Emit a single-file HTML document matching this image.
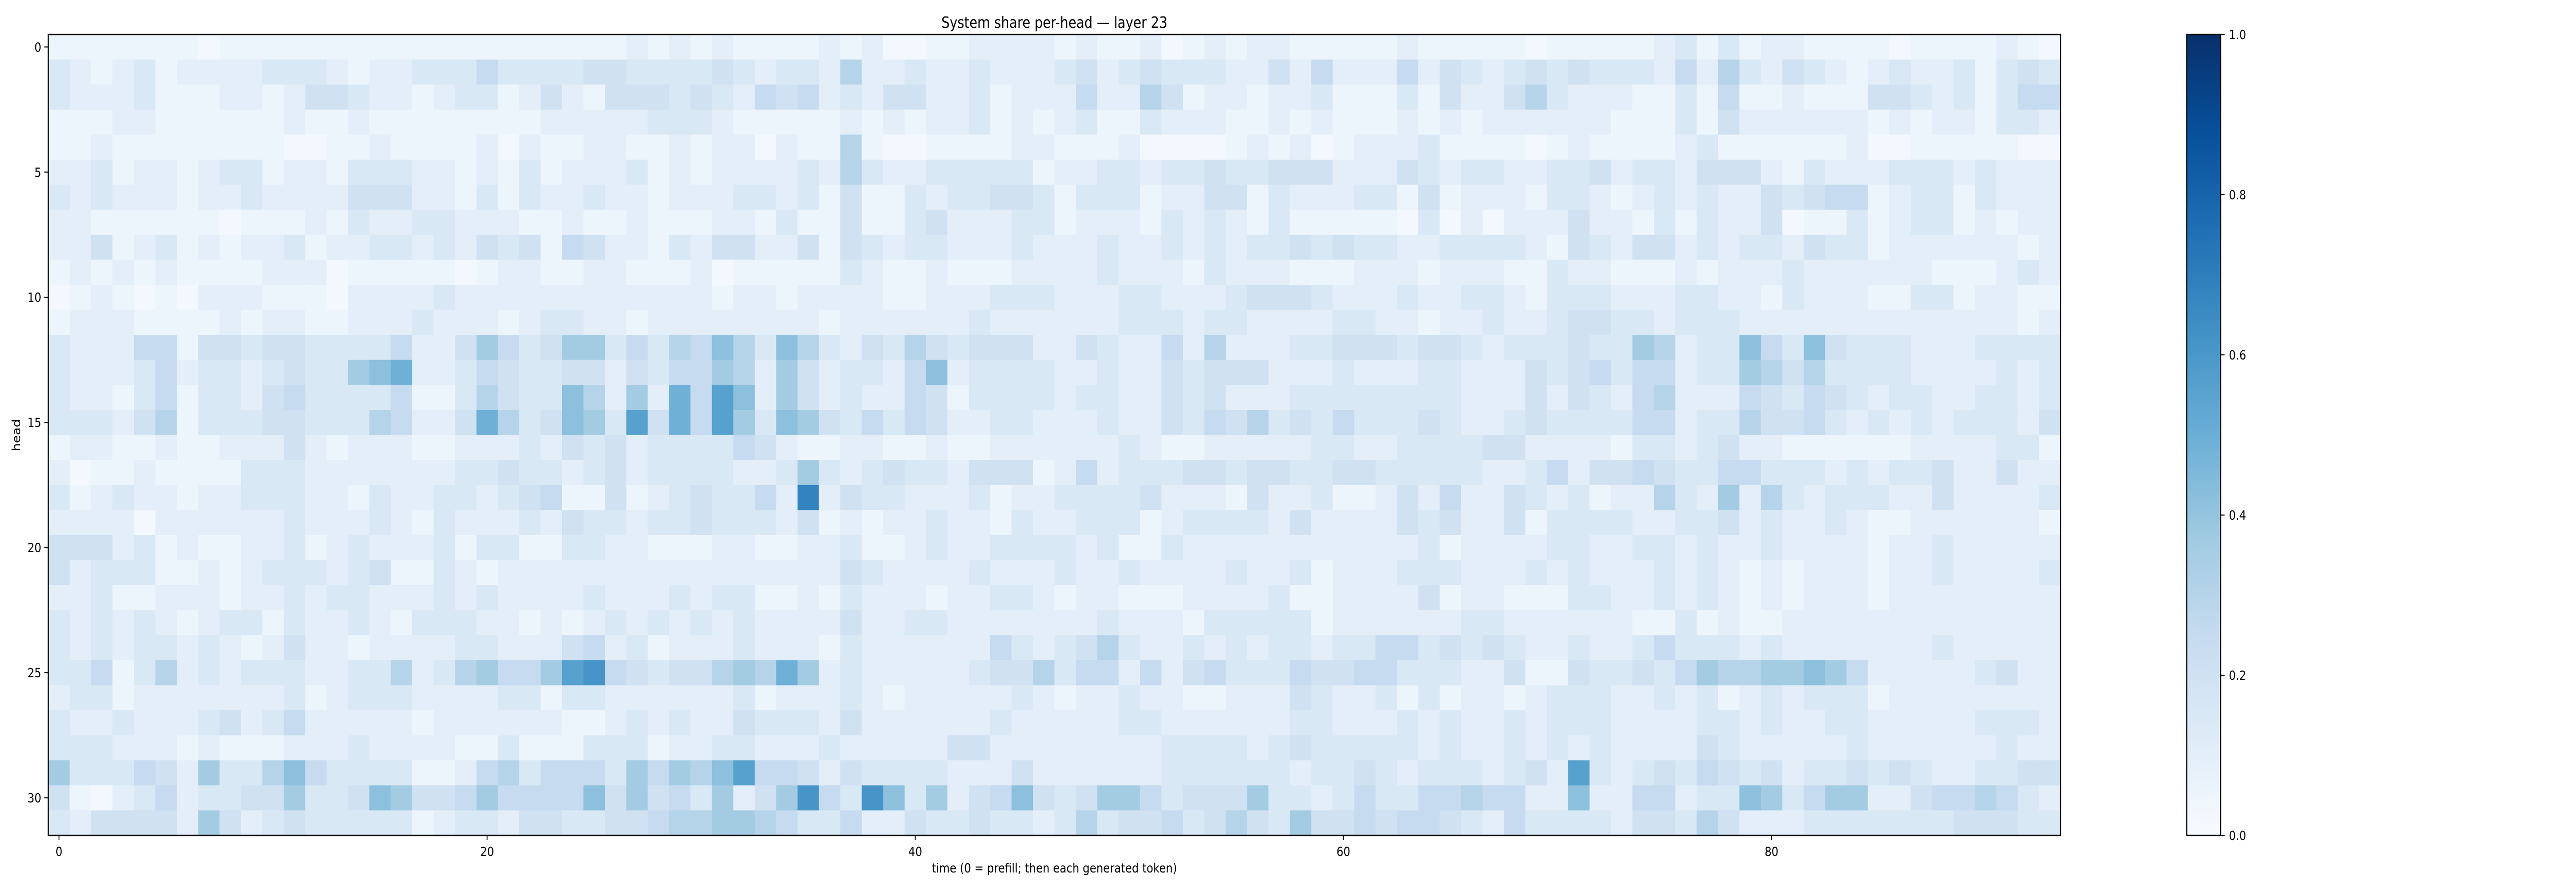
<!DOCTYPE html>
<html><head><meta charset="utf-8"><style>
html,body{margin:0;padding:0;background:#fff;width:100%;height:100%;overflow:hidden;}
svg{display:block;position:fixed;left:0;top:0;width:100vw;height:100vh;font-family:"DejaVu Sans","Liberation Sans",sans-serif;}
</style></head><body>
<svg id="chart" viewBox="0 0 5922 1728" preserveAspectRatio="none" xmlns="http://www.w3.org/2000/svg">
<rect x="0" y="0" width="5922" height="1728" fill="#fff"/>
<text x="2424" y="54" font-size="30" text-anchor="middle" fill="#000">System share per-head — layer 23</text>
<g id="cells"></g>
<g id="axes"></g>
<text x="2424" y="1694" font-size="25" text-anchor="middle" fill="#000">time (0 = prefill; then each generated token)</text>
<text x="0" y="0" font-size="25" text-anchor="middle" fill="#000" transform="translate(46,845) rotate(-90)">head</text>
<defs>
<linearGradient id="blues" x1="0" y1="1" x2="0" y2="0">
<stop offset="0" stop-color="#f7fbff"/><stop offset="0.125" stop-color="#deebf7"/><stop offset="0.25" stop-color="#c6dbef"/><stop offset="0.375" stop-color="#9ecae1"/><stop offset="0.5" stop-color="#6baed6"/><stop offset="0.625" stop-color="#4292c6"/><stop offset="0.75" stop-color="#2171b5"/><stop offset="0.875" stop-color="#08519c"/><stop offset="1" stop-color="#08306b"/>
</linearGradient>
</defs>
<rect x="5027" y="67" width="78" height="1555" fill="url(#blues)" stroke="#000" stroke-width="2.5"/>
<g id="cbticks"></g>
</svg>
<script>
// system share per head (percent units: 15 = 0.15), rows = heads 0..31, columns = time 0..93
const xTicks = [0, 20, 40, 60, 80];
const yTicks = [0, 5, 10, 15, 20, 25, 30];
const cbTicks = [0.0, 0.2, 0.4, 0.6, 0.8, 1.0];
const cbTickLabels = ["0.0", "0.2", "0.4", "0.6", "0.8", "1.0"];
const shares = [
[5,5,5,5,5,5,5,2,5,5,5,5,5,5,5,5,5,5,5,5,5,5,5,5,5,5,5,10,5,10,5,10,5,5,5,5,10,5,10,2,2,5,5,10,10,10,10,5,10,5,5,10,2,5,10,5,10,10,5,5,5,5,5,10,5,5,5,5,5,2,5,5,5,5,5,10,15,5,15,5,10,10,5,5,5,5,2,5,5,5,5,10,5,2],
[15,10,5,10,15,5,10,10,10,10,15,15,15,10,5,10,10,15,15,15,25,15,15,15,15,20,20,15,15,15,15,20,15,10,15,15,10,30,10,10,15,10,10,15,10,10,10,15,20,10,15,20,15,15,15,10,10,20,10,25,10,10,10,25,10,20,15,10,15,20,15,20,15,15,15,10,25,10,30,15,10,20,15,10,5,10,15,10,10,15,5,15,20,15],
[15,10,10,10,15,5,5,5,10,10,5,10,20,20,15,10,10,5,10,15,15,5,10,20,10,5,20,20,20,15,20,15,10,25,20,25,10,15,10,20,20,10,10,15,5,10,10,10,25,10,10,30,20,5,10,10,5,10,10,15,5,5,5,15,5,20,10,10,20,30,15,10,10,10,5,5,15,5,25,5,5,10,5,5,5,20,20,15,10,15,5,15,25,25],
[5,5,5,10,10,5,5,5,5,5,5,10,5,5,10,5,5,5,5,5,5,5,5,10,10,10,10,10,15,15,15,10,5,5,5,5,5,10,5,10,5,10,10,15,5,10,5,10,15,5,5,15,10,10,10,5,5,10,5,10,5,5,5,10,5,10,5,10,10,10,10,10,10,5,5,5,15,5,20,10,10,10,10,10,10,5,10,5,10,10,5,15,15,10],
[5,5,10,5,5,5,5,5,5,5,5,2,2,5,5,10,5,5,5,5,10,2,10,5,5,10,10,5,5,10,5,10,10,2,10,5,5,30,5,2,2,5,5,5,5,10,10,5,5,5,10,2,2,2,2,5,10,5,10,2,5,10,10,10,15,5,5,5,5,2,5,10,5,5,5,5,10,15,5,5,5,5,5,5,10,2,2,5,5,5,5,5,2,2],
[10,10,15,5,10,10,5,10,15,15,5,10,10,5,15,15,15,10,10,5,10,5,15,5,10,10,10,15,5,10,5,10,10,10,10,15,10,30,15,10,10,15,15,15,15,15,5,10,10,15,15,10,15,15,20,15,15,20,20,20,10,10,10,20,15,10,15,15,10,10,15,15,20,10,15,15,10,20,20,20,10,5,15,10,10,10,15,15,15,10,15,10,10,10],
[15,10,15,10,10,10,5,10,10,15,10,10,10,10,20,20,20,10,10,5,15,5,15,10,10,15,10,10,5,10,10,10,15,15,10,15,5,20,5,5,15,10,15,15,20,20,15,5,15,15,15,5,10,10,20,20,5,15,10,10,10,15,15,5,20,5,10,10,10,5,15,15,10,5,10,15,10,15,10,10,20,15,20,25,25,5,10,15,15,5,15,10,10,10],
[10,10,5,5,5,5,5,5,2,5,5,5,10,5,15,10,10,15,15,10,10,10,5,5,10,5,5,10,5,5,5,10,10,5,15,5,5,20,5,5,15,20,10,10,10,15,15,5,10,10,10,5,15,10,15,10,5,15,5,5,5,5,5,2,15,2,10,2,10,10,10,20,10,10,5,15,5,15,10,10,20,2,5,5,15,5,10,15,15,5,10,5,10,10],
[10,10,20,5,10,15,5,10,5,10,10,15,5,10,10,15,15,10,15,10,20,15,20,5,25,20,10,10,5,15,10,20,20,10,10,20,5,20,15,10,15,15,10,10,10,15,10,10,10,15,10,10,15,10,15,10,15,15,20,15,20,15,15,10,10,15,15,15,15,10,5,20,15,10,20,20,10,15,10,15,15,10,20,15,15,5,10,10,10,10,10,10,5,10],
[5,10,5,10,5,10,5,5,5,5,10,10,10,2,5,5,5,5,5,2,5,10,10,5,5,10,10,5,5,5,10,2,5,5,5,5,5,15,10,5,5,10,5,5,5,10,10,10,10,15,10,10,10,5,15,10,10,10,5,5,5,10,10,10,5,10,10,10,5,5,15,10,10,5,5,5,10,5,10,10,10,15,10,10,10,10,10,10,5,5,5,10,15,10],
[2,5,10,5,2,5,2,10,10,10,5,5,5,2,10,10,10,10,15,10,10,10,10,10,10,10,10,10,10,10,10,5,10,10,5,10,10,10,10,5,5,10,10,10,15,15,15,10,10,10,15,15,10,10,10,15,20,20,20,15,10,10,10,15,10,10,15,15,10,5,15,15,15,10,10,10,15,15,10,10,5,15,10,10,10,5,5,15,15,5,10,10,5,5],
[5,10,10,10,5,5,5,5,10,5,10,10,5,5,10,10,10,15,10,10,10,5,10,15,15,10,10,5,10,10,10,10,10,10,10,10,5,10,10,10,10,10,10,15,10,10,10,10,10,10,15,15,15,10,15,15,10,10,10,10,15,15,10,10,5,10,10,15,10,10,15,20,20,15,15,10,15,15,15,10,10,10,10,10,10,10,10,10,10,10,10,10,5,10],
[15,10,10,10,25,25,5,20,20,15,20,20,15,15,15,15,25,10,10,20,36,25,15,20,36,36,15,25,15,30,25,42,30,15,42,30,15,10,20,15,30,20,15,20,20,20,10,10,20,15,10,10,25,10,30,10,10,10,15,15,20,20,20,15,20,20,15,10,15,15,15,20,15,15,36,30,10,15,15,42,25,15,42,20,15,15,15,10,10,10,15,15,15,15],
[15,10,10,10,15,25,10,15,15,10,15,20,15,15,36,42,49,10,10,15,25,20,15,15,20,20,10,20,15,25,25,36,30,10,36,20,10,15,15,10,25,42,10,15,15,15,15,10,10,15,10,10,20,15,20,20,20,10,10,10,15,10,10,10,15,15,10,10,10,20,15,20,25,15,25,25,10,15,15,36,30,20,30,15,15,15,15,10,10,10,10,15,10,15],
[15,10,10,5,15,25,5,15,15,10,20,25,15,15,15,15,25,5,5,15,30,20,15,15,42,30,10,36,10,49,25,56,42,10,36,20,10,15,10,10,25,20,5,15,15,15,15,10,15,15,10,10,20,15,20,10,10,10,15,15,15,15,15,15,15,15,10,10,10,20,10,20,15,10,25,30,10,10,10,25,20,15,25,20,15,10,15,15,10,10,15,15,10,15],
[15,15,15,10,20,30,5,15,15,15,20,20,15,15,15,30,25,10,10,20,49,30,15,20,42,36,15,56,20,49,25,56,36,15,42,36,20,15,25,15,25,20,10,10,15,15,10,10,10,15,10,10,20,15,25,20,30,15,20,15,25,15,15,15,20,15,10,10,15,20,15,15,15,15,25,25,10,15,15,30,20,20,25,15,10,15,10,15,10,15,15,15,10,20],
[5,10,10,5,5,10,5,5,10,10,10,20,10,5,10,10,10,5,5,10,10,10,15,10,20,15,20,10,15,15,15,15,25,20,10,5,5,10,10,5,5,10,5,5,10,10,10,10,10,10,15,10,5,5,10,10,10,10,10,15,15,10,10,15,15,15,15,20,20,10,10,10,10,5,15,15,10,15,20,10,10,5,5,5,5,5,5,10,10,10,10,15,15,5],
[10,2,5,5,10,5,5,5,5,15,15,15,10,10,10,10,10,10,10,15,15,20,15,15,10,15,20,10,15,15,15,15,10,10,15,36,15,10,15,20,15,15,10,20,20,20,5,10,25,10,15,15,15,20,20,15,20,20,15,15,20,20,15,15,15,15,15,10,10,15,25,10,20,20,25,20,15,15,25,25,15,15,15,10,15,10,15,15,20,10,10,20,10,10],
[15,5,10,15,10,10,5,10,10,15,15,15,10,10,5,15,10,10,15,15,10,15,20,25,5,5,20,5,10,15,20,15,15,25,10,68,10,20,15,15,10,10,10,15,5,10,10,15,15,15,15,20,10,10,10,5,20,10,10,15,5,5,10,20,10,25,10,10,20,15,10,15,5,10,10,30,15,10,36,10,30,15,10,15,15,15,10,10,20,10,10,10,10,15],
[10,10,10,10,2,10,10,10,10,10,10,15,10,10,10,15,10,5,15,10,10,10,15,10,20,15,15,10,15,15,20,15,15,15,10,20,5,10,5,10,10,15,10,10,5,15,10,10,15,15,15,5,10,15,15,15,15,10,20,10,10,10,10,20,15,20,10,10,20,5,15,15,15,15,10,10,15,15,20,10,15,10,10,15,10,5,5,10,10,10,10,10,10,5],
[20,20,20,10,15,5,10,5,5,10,10,15,5,10,15,10,10,10,15,5,15,15,5,5,15,15,10,10,5,5,5,10,10,5,5,10,10,15,5,5,10,15,10,10,15,15,15,15,10,15,5,5,15,10,10,10,10,10,10,10,10,10,10,10,15,5,10,10,10,10,15,15,10,10,15,15,10,15,10,10,15,10,10,10,10,5,10,10,15,10,10,10,10,10],
[20,10,15,15,15,5,5,10,5,10,15,15,15,10,15,20,5,5,15,10,5,10,10,10,10,10,10,10,10,10,10,10,10,10,10,10,10,20,15,10,10,10,10,15,10,10,10,15,10,10,15,10,10,10,10,15,10,10,15,5,10,10,10,15,15,15,10,10,10,15,10,15,10,10,10,15,10,15,10,5,10,5,10,10,10,5,10,10,15,10,10,10,10,15],
[10,10,15,5,5,10,10,10,5,10,10,15,10,15,15,10,10,10,15,10,15,10,10,10,10,15,10,10,10,15,10,15,15,5,5,10,5,15,10,10,10,5,10,10,15,15,10,5,10,10,5,5,5,10,10,10,10,15,5,5,10,10,10,10,20,5,10,10,5,5,5,15,15,10,10,15,10,15,10,5,10,5,10,10,10,5,10,10,10,10,10,10,10,10],
[15,10,15,10,15,10,5,10,15,15,5,15,10,10,15,10,5,15,15,15,10,10,5,10,5,10,15,10,15,10,15,10,15,10,10,10,10,20,10,10,15,15,10,10,10,10,10,10,10,15,10,10,10,5,15,15,15,15,15,5,10,10,10,10,10,10,15,15,10,10,10,10,10,10,5,5,15,5,10,5,5,10,10,10,10,10,10,10,10,10,10,10,10,10],
[15,10,15,10,15,15,10,15,10,5,10,20,10,10,5,10,10,10,10,15,15,10,10,10,20,25,10,15,5,10,10,10,15,10,10,10,5,15,10,10,10,10,10,10,25,15,10,15,20,30,15,10,10,15,10,15,10,15,15,10,15,15,25,25,15,20,15,20,15,10,10,15,10,10,15,25,15,15,15,10,15,10,10,10,10,10,10,10,15,10,10,10,10,10],
[15,15,25,5,15,30,10,15,10,15,15,15,10,10,15,15,30,10,15,30,36,25,25,36,56,61,25,20,15,20,20,30,36,30,49,36,10,15,10,10,10,10,10,15,20,20,30,15,25,25,10,25,10,20,25,15,15,15,25,20,20,25,25,15,15,15,10,10,20,5,5,20,15,15,20,15,25,36,30,30,36,36,42,36,25,10,10,10,10,10,15,20,10,10],
[10,15,15,5,10,10,10,10,10,10,10,15,5,10,15,15,15,10,10,10,10,15,15,5,15,15,10,10,10,10,10,10,15,5,10,10,10,15,10,5,10,10,10,10,10,15,10,5,10,10,15,10,10,5,5,10,10,10,20,15,10,10,15,5,15,5,10,10,5,10,15,15,15,10,10,15,10,15,5,10,15,10,15,15,15,5,10,10,10,10,10,10,10,10],
[15,10,10,15,10,10,10,15,20,10,15,25,10,10,10,10,10,5,10,10,10,10,10,10,5,5,10,15,10,15,10,10,20,15,15,15,10,20,10,10,10,10,10,10,15,10,10,10,10,10,15,15,10,10,10,10,10,10,15,15,10,10,10,15,10,15,10,10,15,10,15,15,15,10,10,10,10,15,15,10,15,10,10,15,15,10,10,10,10,10,15,15,15,10],
[15,15,15,10,10,10,5,10,5,5,5,10,10,10,15,10,10,10,10,5,5,15,5,5,5,15,15,15,5,10,10,15,15,10,10,10,15,10,10,10,10,10,20,20,10,10,10,10,10,10,10,10,15,15,15,15,10,15,20,15,15,15,15,15,10,15,10,10,15,10,15,10,15,10,10,10,10,20,15,10,10,10,10,10,15,10,10,10,10,10,10,15,10,10],
[36,15,15,15,25,20,10,36,15,15,30,42,25,15,15,15,15,5,5,10,25,30,15,25,25,25,15,36,25,36,30,42,56,25,25,20,10,20,15,15,15,15,10,10,10,20,10,10,10,10,10,10,15,15,15,15,15,15,10,15,15,20,15,10,15,15,15,10,15,20,10,56,15,10,15,20,15,25,20,15,20,10,15,15,20,15,20,15,10,10,15,15,20,20],
[20,5,2,10,15,25,10,15,15,20,20,36,15,15,20,42,36,20,20,25,36,25,25,25,25,42,20,36,20,25,15,36,10,20,36,61,25,15,61,42,15,36,10,20,25,42,20,15,20,36,36,25,15,20,20,20,36,15,15,10,15,25,15,15,25,25,30,25,25,10,10,42,10,10,25,25,10,15,15,42,36,15,25,36,36,10,10,20,25,25,30,25,15,10],
[15,10,20,20,20,20,10,36,20,10,15,20,15,15,15,15,15,5,10,15,15,10,20,20,15,15,20,20,25,30,30,36,36,30,25,15,15,25,10,10,20,15,15,20,15,15,10,15,30,15,20,20,25,15,20,30,20,15,36,20,20,25,20,25,25,20,15,10,25,15,15,15,15,10,20,20,15,30,20,10,10,10,15,15,15,15,15,15,15,20,20,20,15,15]
];
const valueScale = 100; // shares stored in percent

const SVGNS = "http://www.w3.org/2000/svg";
const X0 = 111, X1 = 4737, Y0 = 67, Y1 = 1622;
const nCols = 94, nRows = shares.length;
const cellW = (X1 - X0) / nCols, cellH = (Y1 - Y0) / nRows;
function xPos(i) { return X0 + i * cellW; }
function xCenter(i) { return X0 + (i + 0.5) * cellW; }
function yPos(r) { return Y0 + r * cellH; }
function yCenter(r) { return Y0 + (r + 0.5) * cellH; }
const CB_Y0 = 67, CB_Y1 = 1622;
function cbY(v) { return CB_Y1 - v * (CB_Y1 - CB_Y0); }

const blues = [[247,251,255],[222,235,247],[198,219,239],[158,202,225],[107,174,214],[66,146,198],[33,113,181],[8,81,156],[8,48,107]];
function colorFor(v) {
  v = Math.max(0, Math.min(1, v));
  const t = v * (blues.length - 1);
  const i = Math.min(blues.length - 2, Math.floor(t));
  const f = t - i;
  const c = blues[i].map((a, k) => Math.round(a + (blues[i + 1][k] - a) * f));
  return "rgb(" + c.join(",") + ")";
}

const cellsG = document.getElementById("cells");
for (let r = 0; r < nRows; r++) {
  const row = shares[r];
  for (let c = 0; c < nCols; c++) {
    const val = (c < row.length ? row[c] : row[row.length - 1]) / valueScale;
    const rect = document.createElementNS(SVGNS, "rect");
    rect.setAttribute("x", xPos(c).toFixed(2));
    rect.setAttribute("y", yPos(r).toFixed(2));
    rect.setAttribute("width", (cellW + 0.6).toFixed(2));
    rect.setAttribute("height", (cellH + 0.6).toFixed(2));
    rect.setAttribute("fill", colorFor(val));
    
    
    cellsG.appendChild(rect);
  }
}

const axesG = document.getElementById("axes");
const frame = document.createElementNS(SVGNS, "rect");
frame.setAttribute("x", X0); frame.setAttribute("y", Y0);
frame.setAttribute("width", X1 - X0); frame.setAttribute("height", Y1 - Y0);
frame.setAttribute("fill", "none"); frame.setAttribute("stroke", "#000"); frame.setAttribute("stroke-width", "2.5");


axesG.appendChild(frame);

xTicks.forEach(t => {
  const x = xCenter(t);
  const ln = document.createElementNS(SVGNS, "line");
  ln.setAttribute("x1", x); ln.setAttribute("x2", x);
  ln.setAttribute("y1", Y1); ln.setAttribute("y2", Y1 + 9);
  ln.setAttribute("stroke", "#000"); ln.setAttribute("stroke-width", "2");
  
  
  axesG.appendChild(ln);
  const tx = document.createElementNS(SVGNS, "text");
  tx.setAttribute("x", x); tx.setAttribute("y", Y1 + 40);
  tx.setAttribute("font-size", "25"); tx.setAttribute("text-anchor", "middle");
  tx.textContent = String(t);
  
  
  axesG.appendChild(tx);
});

yTicks.forEach(t => {
  const y = yCenter(t);
  const ln = document.createElementNS(SVGNS, "line");
  ln.setAttribute("x1", X0 - 9); ln.setAttribute("x2", X0);
  ln.setAttribute("y1", y); ln.setAttribute("y2", y);
  ln.setAttribute("stroke", "#000"); ln.setAttribute("stroke-width", "2");
  
  
  axesG.appendChild(ln);
  const tx = document.createElementNS(SVGNS, "text");
  tx.setAttribute("x", X0 - 16); tx.setAttribute("y", y + 9);
  tx.setAttribute("font-size", "25"); tx.setAttribute("text-anchor", "end");
  tx.textContent = String(t);
  
  
  axesG.appendChild(tx);
});

const cbG = document.getElementById("cbticks");
cbTicks.forEach((t, i) => {
  const y = cbY(t);
  const ln = document.createElementNS(SVGNS, "line");
  ln.setAttribute("x1", 5105); ln.setAttribute("x2", 5114);
  ln.setAttribute("y1", y); ln.setAttribute("y2", y);
  ln.setAttribute("stroke", "#000"); ln.setAttribute("stroke-width", "2");
  
  
  cbG.appendChild(ln);
  const tx = document.createElementNS(SVGNS, "text");
  tx.setAttribute("x", 5124); tx.setAttribute("y", y + 9);
  tx.setAttribute("font-size", "25");
  tx.textContent = cbTickLabels[i];
  
  
  cbG.appendChild(tx);
});
</script>
</body></html>
